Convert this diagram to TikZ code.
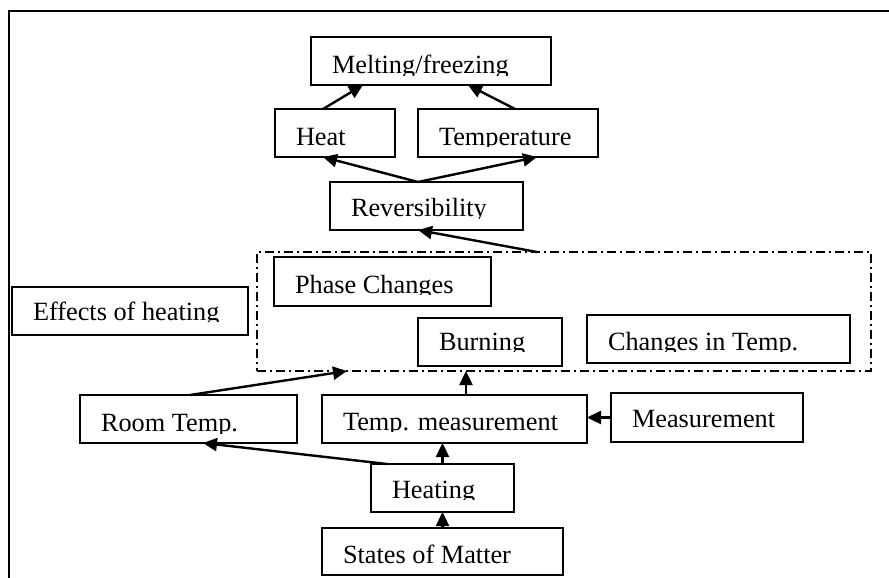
\documentclass[tikz,border=0pt]{standalone}
\usepackage{fontspec}
\setmainfont{Liberation Serif}
\usetikzlibrary{arrows.meta,calc}
\tikzset{
  cbx/.style={draw=black, line width=1.4pt, inner sep=0pt, outer sep=0pt, rectangle},
  txt/.style={anchor=base west, inner sep=0pt, outer sep=0pt, font=\fontsize{26.3}{30}\selectfont},
  grpbox/.style={draw=black, line width=1.5pt, dash pattern=on 9pt off 4pt on 2pt off 4pt, inner sep=0pt, outer sep=0pt, rectangle},
  arr/.style={line width=2.4pt, -{Triangle[length=14pt,width=13pt]}},
  frame/.style={line width=2.2pt}
}
\newcommand\cbox[7]{%
  \node[cbx, minimum width={#4-#2}, minimum height={#5-#3}] (#1) at ({(#2+#4)/2},{(#3+#5)/2}) {};
  \begin{scope}
    \clip ({#2+1},{#3+1}) rectangle ({#4-1},{#6+1.6});
    \node[txt] (#1-t) at ({#2+21},#6) {#7};
  \end{scope}
}
\begin{document}
\begin{tikzpicture}[x=1pt,y=-1pt]
\useasboundingbox (0,0) rectangle (889,578);
\draw[frame] (9,579) -- (9,11) -- (890,11);

\cbox{melt}{311}{37}{551}{85}{73.5}{Melting/freezing}
\cbox{heat}{275}{109}{395}{157}{145}{Heat}
\cbox{temp}{418}{109}{598}{157}{145}{Temperature}
\cbox{rev}{330}{182}{523}{230}{216.7}{Reversibility}
\node[grpbox, minimum width=614, minimum height=119] (grp) at (564,311.5) {};
\cbox{phase}{274}{257}{491}{306}{293.3}{Phase Changes}
\cbox{eff}{12}{287}{248}{335}{320}{Effects of heating}
\cbox{burn}{418}{318}{562}{366}{350}{Burning}
\cbox{cit}{587}{315}{850}{363}{350}{Changes in Temp.}
\cbox{room}{80}{395}{297}{443}{431.7}{Room Temp.}
\cbox{tmeas}{322}{395}{587}{443}{430}{Temp. measurement}
\cbox{meas}{611}{393}{803}{442}{427.3}{Measurement}
\cbox{heating}{371}{464}{514}{512}{498.3}{Heating}
\cbox{states}{322}{528}{563}{575}{563.3}{States of Matter}

\draw[arr] ($(heat.north west)+(48,0)$) -- ($(melt.south west)+(52,0)$);
\draw[arr] ($(temp.north west)+(97,0)$) -- ($(melt.south west)+(157,0)$);
\draw[arr] ($(rev.north west)+(88,0)$) -- ($(heat.south west)+(48,0)$);
\draw[arr] ($(rev.north west)+(88,0)$) -- ($(temp.south west)+(119,0)$);
\draw[arr] ($(grp.north west)+(280,0)$) -- ($(rev.south west)+(88,0)$);
\draw[arr] ($(room.north west)+(110,0)$) -- ($(grp.south west)+(90,0)$);
\coordinate (tmtop) at ($(tmeas.north west)+(144,0)$);
\draw[arr] (tmtop) -- (tmtop |- grp.south);
\draw[arr] (meas.west) -- (meas.west -| tmeas.east);
\draw[arr] (heating.north) -- (heating.north |- tmeas.south);
\draw[arr] ($(heating.north west)+(16,0)$) -- ($(room.south west)+(123,0)$);
\draw[arr] (states.north) -- (heating.south);
\end{tikzpicture}
\end{document}
